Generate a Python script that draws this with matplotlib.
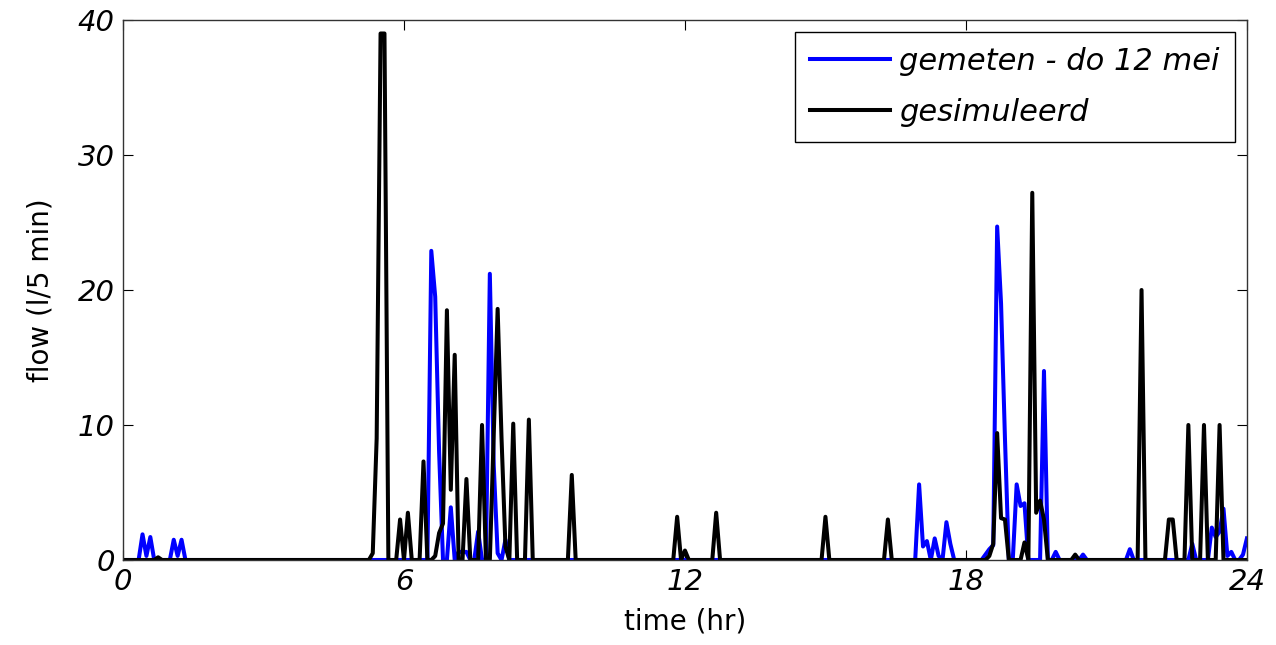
import numpy as np
import matplotlib
matplotlib.use("Agg")
import matplotlib.pyplot as plt

# 5-minute slots over one day (slot 0 = 00:00, slot 288 = 24:00)
n_slots = 289
time_hr = np.arange(n_slots) * 5 / 60

# measured flow: nonzero slots only
meas_slot = [5, 6, 7, 13, 14, 15,
             79, 80, 81, 84, 86, 87, 88, 91, 94, 95, 96, 98,
             204, 205, 206, 208, 209, 211, 212,
             221, 222, 223, 224, 225, 226, 229, 230, 231, 236, 239, 246,
             258, 274, 279, 280, 281, 282, 283, 284, 287, 288]
meas_val = [1.9, 0.3, 1.7, 1.5, 0.3, 1.5,
            22.9, 19.5, 8.0, 3.9, 0.6, 0.6, 0.6, 2.1, 21.2, 7.0, 0.5, 1.5,
            5.6, 1.0, 1.4, 1.6, 0.3, 2.8, 1.2,
            0.4, 0.8, 1.1, 24.7, 19.0, 9.0, 5.6, 4.0, 4.2, 14.0, 0.6, 0.4,
            0.8, 1.2, 2.4, 1.7, 2.1, 3.8, 0.3, 0.6, 0.4, 1.6]

# simulated flow: nonzero slots only
sim_slot = [9, 64, 65, 66, 67, 71, 73, 77,
            80, 81, 82, 83, 84, 85, 88, 92, 95, 96, 97, 98, 100, 104,
            115, 142, 144, 152, 180, 196,
            222, 223, 224, 225, 226, 231, 233, 234, 235, 236, 244,
            261, 268, 269, 273, 277, 281]
sim_val = [0.2, 0.5, 9.0, 39.0, 39.0, 3.0, 3.5, 7.3,
           0.3, 2.0, 2.7, 18.5, 5.2, 15.2, 6.0, 10.0, 9.3, 18.6, 9.0, 1.0, 10.1, 10.4,
           6.3, 3.2, 0.7, 3.5, 3.2, 3.0,
           0.3, 1.2, 9.4, 3.1, 3.0, 1.3, 27.2, 3.5, 4.4, 3.0, 0.4,
           20.0, 3.0, 3.0, 10.0, 10.0, 10.0]

measured = np.zeros(n_slots)
measured[meas_slot] = meas_val
simulated = np.zeros(n_slots)
simulated[sim_slot] = sim_val

x_ticks = [0, 6, 12, 18, 24]
y_ticks = [0, 10, 20, 30, 40]

fig = plt.figure(figsize=(12.76, 6.45), dpi=100)
ax = fig.add_axes([0.0964, 0.1318, 0.8808, 0.8372])

ax.plot(time_hr, measured, color=(0, 0, 1), lw=2.9, label="gemeten - do 12 mei")
ax.plot(time_hr, simulated, color="black", lw=2.9, label="gesimuleerd")

ax.set_xlim(0, 24)
ax.set_ylim(0, 40)
ax.set_xticks(x_ticks)
ax.set_yticks(y_ticks)
ax.tick_params(direction="in", length=7, width=0.8, top=True, right=True,
               labelsize=21, pad=6)
for lab in ax.get_xticklabels() + ax.get_yticklabels():
    lab.set_fontstyle("italic")
for sp in ax.spines.values():
    sp.set_linewidth(1.0)
    sp.set_color("#333333")

ax.set_xlabel("time (hr)", fontsize=20, labelpad=8)
ax.set_ylabel("flow (l/5 min)", fontsize=20, labelpad=17)

leg = ax.legend(loc="upper right", bbox_to_anchor=(0.989, 0.978),
                borderaxespad=0,
                prop={"size": 22, "style": "italic"}, fancybox=False,
                framealpha=1, edgecolor="black", handlelength=2.6,
                handletextpad=0.3, borderpad=0.5, labelspacing=0.7)
leg.get_frame().set_linewidth(1.0)

fig.savefig("out.png", dpi=100)
